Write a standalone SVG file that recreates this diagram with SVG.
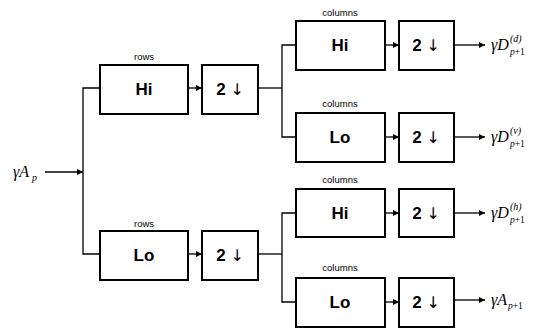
<svg xmlns="http://www.w3.org/2000/svg" width="539" height="329" viewBox="0 0 539 329">
<defs>
<marker id="ah" viewBox="0 0 10 10" refX="10" refY="5" markerWidth="6" markerHeight="6" markerUnits="userSpaceOnUse" orient="auto"><path d="M0,0 L10,5 L0,10 z" fill="#000"/></marker>
</defs>
<style>
text{fill:#000}
.box{fill:#fff;stroke:#000;stroke-width:2}
.big{font-family:"Liberation Sans",Arial,sans-serif;font-weight:bold;font-size:17px;text-anchor:middle}
.arr{font-family:"DejaVu Sans",sans-serif;font-weight:normal;font-size:16px}
.small{font-family:"Liberation Sans",Arial,sans-serif;font-size:9.5px;text-anchor:middle}
.ln{fill:none;stroke:#000;stroke-width:1.3}
.math{font-family:"Liberation Serif","Times New Roman",serif;font-style:italic;font-size:16px}
.sup{font-family:"Liberation Serif","Times New Roman",serif;font-style:italic;font-size:10px}
.sub{font-family:"Liberation Serif","Times New Roman",serif;font-size:9.5px}
.it{font-style:italic}
</style>
<rect width="539" height="329" fill="#fff"/>
<g id="connectors">
<line class="ln" x1="45" y1="172" x2="83" y2="172" marker-end="url(#ah)"/>
<polyline class="ln" points="100,88 83,88 83,254 100,254"/>
<line class="ln" x1="188" y1="88" x2="202" y2="88" marker-end="url(#ah)"/>
<line class="ln" x1="188" y1="254" x2="202" y2="254" marker-end="url(#ah)"/>
<polyline class="ln" points="296,45 282,45 282,137 296,137"/>
<line class="ln" x1="258" y1="88" x2="282" y2="88"/>
<polyline class="ln" points="296,213 282,213 282,302 296,302"/>
<line class="ln" x1="258" y1="254" x2="282" y2="254"/>
<line class="ln" x1="385" y1="45" x2="399" y2="45" marker-end="url(#ah)"/>
<line class="ln" x1="385" y1="137" x2="399" y2="137" marker-end="url(#ah)"/>
<line class="ln" x1="385" y1="213" x2="399" y2="213" marker-end="url(#ah)"/>
<line class="ln" x1="385" y1="302" x2="399" y2="302" marker-end="url(#ah)"/>
<line class="ln" x1="454" y1="45" x2="485" y2="45" marker-end="url(#ah)"/>
<line class="ln" x1="454" y1="137" x2="485" y2="137" marker-end="url(#ah)"/>
<line class="ln" x1="454" y1="213" x2="485" y2="213" marker-end="url(#ah)"/>
<line class="ln" x1="454" y1="300" x2="485" y2="300" marker-end="url(#ah)"/>
</g>
<g id="input"><text class="math" x="13" y="177">γA</text><text class="sup" x="32" y="181">p</text></g>
<g id="rowsHi"><text class="small" x="144" y="60">rows</text><rect class="box" x="100" y="65" width="88" height="49"/><text class="big" x="144" y="95">Hi</text></g>
<g id="rowsHiDown"><rect class="box" x="202" y="65" width="56" height="49"/><text class="big" x="230" y="95">2 <tspan class="arr">↓</tspan></text></g>
<g id="rowsLo"><text class="small" x="144" y="227">rows</text><rect class="box" x="100" y="231" width="88" height="49"/><text class="big" x="144" y="261">Lo</text></g>
<g id="rowsLoDown"><rect class="box" x="202" y="231" width="56" height="49"/><text class="big" x="230" y="261">2 <tspan class="arr">↓</tspan></text></g>
<g id="colHi1"><text class="small" x="340" y="16">columns</text><rect class="box" x="296" y="21" width="89" height="49"/><text class="big" x="340" y="51">Hi</text></g>
<g id="colHi1Down"><rect class="box" x="399" y="21" width="55" height="49"/><text class="big" x="426" y="51">2 <tspan class="arr">↓</tspan></text></g>
<g id="colLo1"><text class="small" x="340" y="107">columns</text><rect class="box" x="296" y="113" width="89" height="49"/><text class="big" x="340" y="143">Lo</text></g>
<g id="colLo1Down"><rect class="box" x="399" y="113" width="55" height="49"/><text class="big" x="426" y="143">2 <tspan class="arr">↓</tspan></text></g>
<g id="colHi2"><text class="small" x="340" y="183">columns</text><rect class="box" x="296" y="189" width="89" height="48"/><text class="big" x="340" y="219">Hi</text></g>
<g id="colHi2Down"><rect class="box" x="399" y="189" width="55" height="48"/><text class="big" x="426" y="219">2 <tspan class="arr">↓</tspan></text></g>
<g id="colLo2"><text class="small" x="340" y="271">columns</text><rect class="box" x="296" y="278" width="89" height="49"/><text class="big" x="340" y="308">Lo</text></g>
<g id="colLo2Down"><rect class="box" x="399" y="278" width="55" height="49"/><text class="big" x="426" y="308">2 <tspan class="arr">↓</tspan></text></g>
<g id="outD"><text class="math" x="491" y="50">γD</text><text class="sup" x="510" y="42">(d)</text><text class="sub" x="510" y="55"><tspan class="it">p</tspan>+1</text></g>
<g id="outV"><text class="math" x="491" y="142">γD</text><text class="sup" x="510" y="134">(v)</text><text class="sub" x="510" y="147"><tspan class="it">p</tspan>+1</text></g>
<g id="outH"><text class="math" x="491" y="218">γD</text><text class="sup" x="510" y="210">(h)</text><text class="sub" x="510" y="223"><tspan class="it">p</tspan>+1</text></g>
<g id="outA"><text class="math" x="491" y="305">γA</text><text class="sub" x="508" y="309"><tspan class="it">p</tspan>+1</text></g>
</svg>
